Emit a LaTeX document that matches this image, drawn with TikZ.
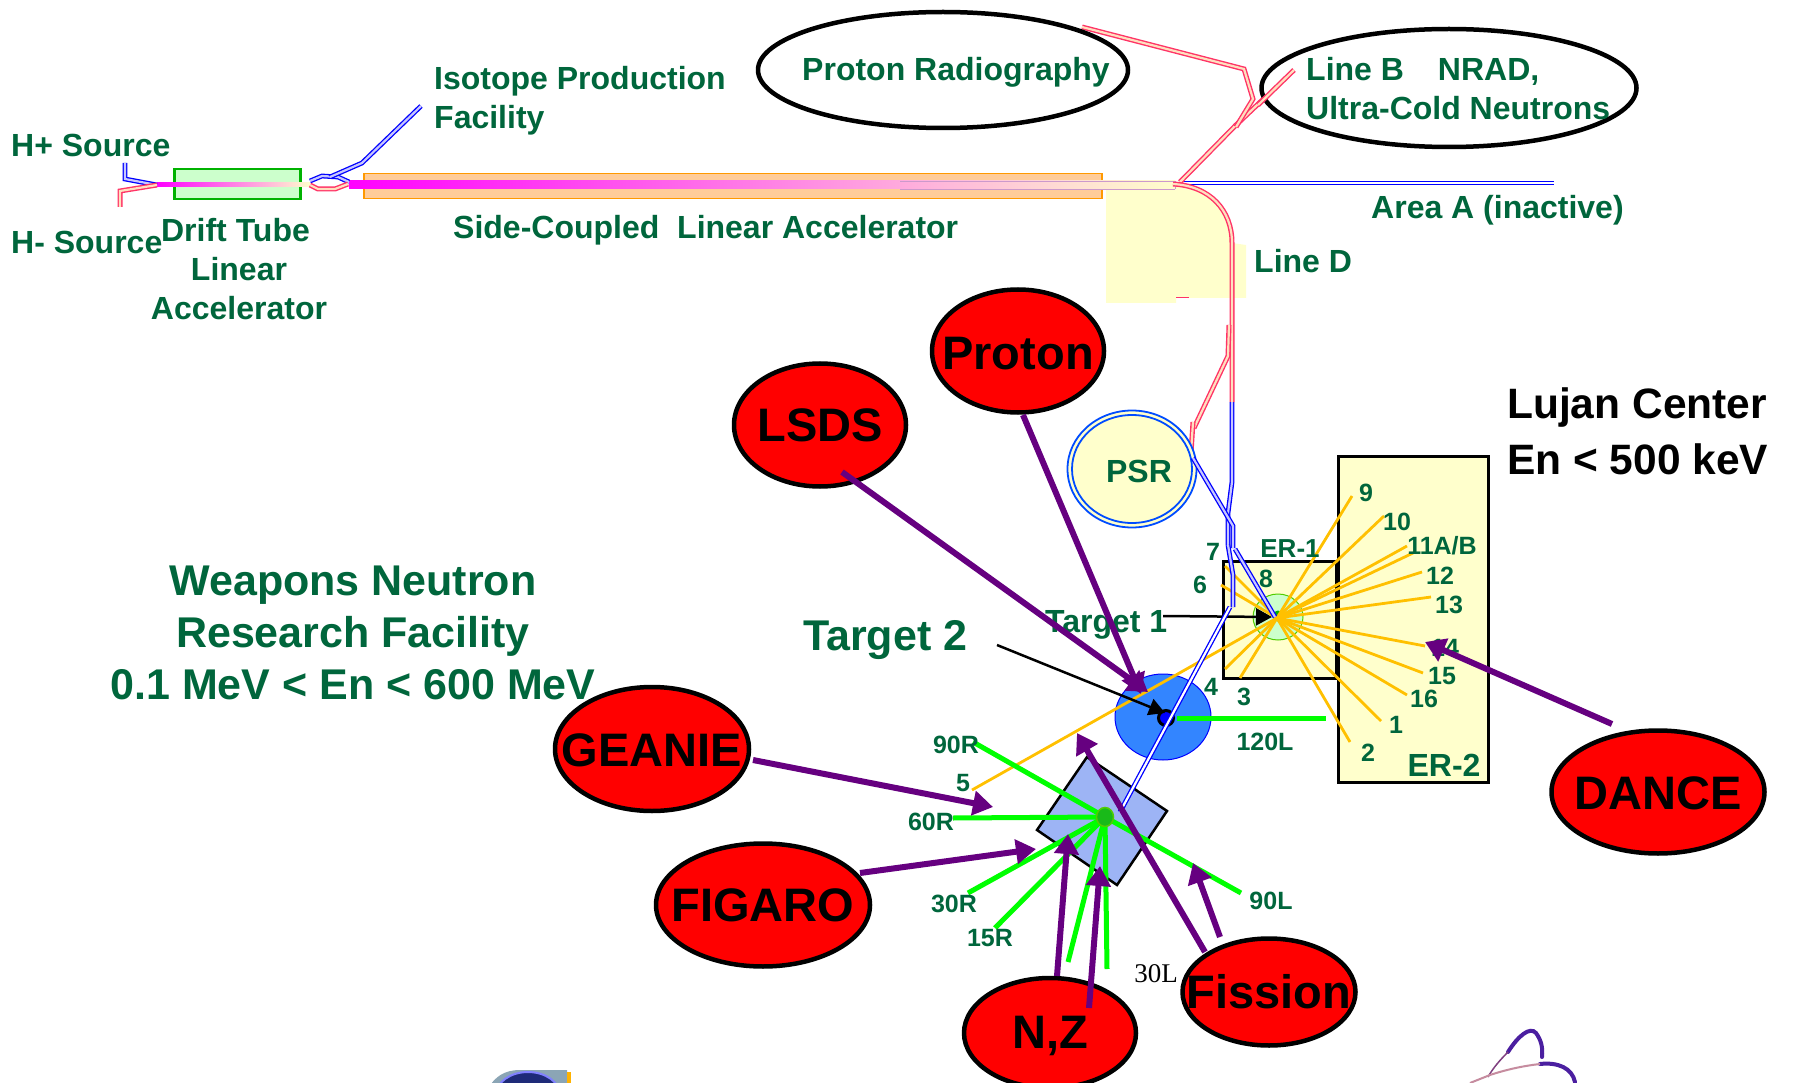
\documentclass[tikz,border=0pt]{standalone}
\usepackage{fontspec}
\setmainfont{Liberation Sans}
\newfontfamily\timesfont{Liberation Serif}
\usetikzlibrary{arrows.meta,shapes.geometric}
\definecolor{wnrgreen}{HTML}{00663C}
\definecolor{wnrpurple}{HTML}{660080}
\definecolor{wnrpale}{HTML}{FFFFCC}
\definecolor{wnrmint}{HTML}{CCFFCC}
\definecolor{wnrorange}{HTML}{FFCC99}
\definecolor{wnrpink}{HTML}{FF3366}
\definecolor{wnrgold}{HTML}{FFC000}
\definecolor{wnrlime}{HTML}{00FF00}
\definecolor{wnrhatch}{HTML}{9DB4F5}
\definecolor{wnrslate}{HTML}{8BA5B5}
\definecolor{wnrnavy}{HTML}{1E2A78}
\definecolor{wnrviolet}{HTML}{4B1FA0}

\begin{document}
\begin{tikzpicture}[x=1pt, y=-1pt,
  spot/.style={ellipse, draw=black, line width=4.5pt, fill=red, inner sep=0pt},
  oval/.style={ellipse, draw=black, line width=4.5pt, fill=white, inner sep=0pt},
  spotname/.style={font=\fontsize{47}{54}\selectfont\bfseries, inner sep=0pt},
  facility/.style={text=wnrgreen, font=\fontsize{32}{39}\selectfont\bfseries, inner sep=0pt, align=center},
  title/.style={text=wnrgreen, font=\fontsize{43}{52}\selectfont\bfseries, inner sep=0pt, align=center},
  lujan/.style={font=\fontsize{42.5}{56}\selectfont\bfseries, inner sep=0pt, align=left},
  port/.style={text=wnrgreen, font=\fontsize{25}{30}\selectfont\bfseries, inner sep=0pt},
  area/.style={draw=black, line width=3pt, fill=wnrpale, inner sep=0pt, anchor=north west},
  pinkpipe/.style={draw=wnrpink, line width=1.4pt, double=orange!25, double distance=2.2pt},
  bluepipe/.style={draw=blue, line width=1.3pt, double=blue!22, double distance=2.2pt},
  goldbeam/.style={draw=wnrgold, line width=2.8pt},
  limebeam/.style={draw=wnrlime, line width=5pt},
  spotarr/.style={-{Triangle[length=20pt,width=24pt]}, draw=wnrpurple, line width=6pt},
  targetarr/.style={-{Triangle[length=16pt,width=17pt]}, draw=black, line width=2.5pt}
]
\path[use as bounding box, fill=white] (0,0) rectangle (1797,1083);

% linac
\node[draw=green!70!black, line width=2.5pt, fill=wnrmint, minimum width=126pt, minimum height=30pt, inner sep=0pt, anchor=north west] (dtl) at (173,168) {};
\node[draw=orange!80!yellow, line width=1.5pt, fill=wnrorange, minimum width=738pt, minimum height=25pt, inner sep=0pt, anchor=north west] (sideco) at (363,173) {};
\fill[wnrpale] (1106,189) -- (1180,186) .. controls (1212,188) and (1232,210) .. (1232,243) -- (1246,245) -- (1246,298) -- (1176,298) -- (1176,303) -- (1106,303) -- cycle;
\draw[wnrpink, line width=1pt] (1176,298) -- (1189,298);
\shade[left color=magenta, right color=wnrpale] (157,182.5) rectangle (310,187);
\shade[left color=magenta, right color=wnrpale] (349,181) rectangle (1175,189);
\draw[violet!40, line width=0.8pt] (1175,181) -- (900,181) (1175,189) -- (900,189) (1175,181) -- (1175,189);

% sources and switchyard
\draw[bluepipe] (125,163) -- (125,179) -- (157,185);
\draw[pinkpipe] (120,207) -- (120,191) -- (157,185);
\draw[bluepipe] (310,181) -- (322,176) -- (338,177) -- (349,182);
\draw[pinkpipe] (310,185) -- (318,189) -- (335,189) -- (348,184);
\draw[bluepipe] (330,177) -- (362,163) -- (421,106);

% switchyard at the end of the linac
\draw[bluepipe, double=white] (1180,183) -- (1554,183);
\draw[pinkpipe] (1180,182) -- (1236,125) -- (1294,70);
\draw[pinkpipe] (1236,127) -- (1253,99) -- (1244,69) -- (1082,27);
\draw[pinkpipe] (1173,184) .. controls (1210,186) and (1232,210) .. (1232,243) -- (1232,402);
\draw[pinkpipe] (1229,325) -- (1228,356) -- (1194,428);
\draw[pinkpipe] (1193,422) -- (1191,453);

% ovals
\node[oval, minimum width=370pt, minimum height=116pt] (radiography) at (943,70) {};
\node[oval, minimum width=375pt, minimum height=118pt] (lineb) at (1449,88) {};
\draw[pinkpipe] (1258,105) -- (1294,70);
\node[facility] (radiotext) at (956,72) {Proton Radiography};
\node[facility, anchor=west, align=left] (linebtext) at (1306,89) {Line B\hspace{34pt}NRAD,\\Ultra-Cold Neutrons};

% experiment areas
\node[area, minimum width=150pt, minimum height=326pt] (er2) at (1337,455) {};
\node[area, minimum width=113pt, minimum height=117pt] (er1) at (1222,560) {};
\node[ellipse, draw=green!60!yellow!80!black, line width=1pt, fill=wnrmint, minimum width=50pt, minimum height=46pt, inner sep=0pt] (target1ring) at (1278,617) {};
\node[circle, fill=green!70!black, minimum size=11pt, inner sep=0pt] (target1) at (1278,616) {};
\node[ellipse, draw=blue, line width=1pt, fill=blue!60!cyan!80, minimum width=96pt, minimum height=86pt, inner sep=0pt] (disc) at (1163,717) {};
\node[circle, draw=black, line width=3pt, fill=blue, minimum size=15pt, inner sep=0pt] (target2) at (1166,718) {};
\fill[wnrhatch, draw=black, line width=2.5pt] (1087,757) -- (1167,811) -- (1117,885) -- (1037,830) -- cycle;

% PSR ring
\node[ellipse, draw=blue!70!cyan, line width=1.8pt, fill=wnrpale, minimum width=129pt, minimum height=117pt, inner sep=0pt] (psr) at (1132,469) {};
\node[ellipse, draw=blue!70!cyan, line width=1.8pt, minimum width=120pt, minimum height=108pt, inner sep=0pt] (psrinner) at (1132,469) {};

% Lujan flight paths
\coordinate (lujanhub) at (1277,618);
\coordinate (fp1) at (1381,721);
\coordinate (fp2) at (1350,742);
\coordinate (fp3) at (1240,678);
\coordinate (fp4) at (1225,669);
\coordinate (fp5) at (972,790);
\coordinate (fp6) at (1221,585);
\coordinate (fp7) at (1225,566);
\coordinate (fp9) at (1352,496);
\coordinate (fp10) at (1384,516);
\coordinate (fp11a) at (1407,546);
\coordinate (fp11b) at (1413,553);
\coordinate (fp12) at (1422,572);
\coordinate (fp13) at (1431,597);
\coordinate (fp14) at (1425,646);
\coordinate (fp15) at (1423,673);
\coordinate (fp16) at (1407,695);
\coordinate (target1start) at (1163,616);
\coordinate (target1tip) at (1272,617);
\draw[targetarr] (target1start) -- (target1tip);
\draw[goldbeam] (lujanhub) -- (fp1);
\draw[goldbeam] (lujanhub) -- (fp2);
\draw[goldbeam] (lujanhub) -- (fp3);
\draw[goldbeam] (lujanhub) -- (fp4);
\draw[goldbeam] (lujanhub) -- (fp5);
\draw[goldbeam] (lujanhub) -- (fp6);
\draw[goldbeam] (lujanhub) -- (fp7);
\draw[goldbeam] (lujanhub) -- (fp9);
\draw[goldbeam] (lujanhub) -- (fp10);
\draw[goldbeam] (lujanhub) -- (fp11a);
\draw[goldbeam] (lujanhub) -- (fp11b);
\draw[goldbeam] (lujanhub) -- (fp12);
\draw[goldbeam] (lujanhub) -- (fp13);
\draw[goldbeam] (lujanhub) -- (fp14);
\draw[goldbeam] (lujanhub) -- (fp15);
\draw[goldbeam] (lujanhub) -- (fp16);

% proton lines after PSR
\draw[bluepipe] (1232,402) -- (1232,482) -- (1228,513) -- (1228,545);
\draw[bluepipe] (1228,545) -- (1233,575) -- (1233,607);
\draw[bluepipe] (1193,458) -- (1233,526) -- (1233,548);
\draw[bluepipe] (1235,549) -- (1275,617);
\draw[bluepipe, double=white] (1230,607) -- (1120,812);

% WNR flight paths
\coordinate (wnrhub) at (1105,817);
\coordinate (fp120l) at (1326,718);
\coordinate (fp90r) at (973,742);
\coordinate (fp60r) at (953,818);
\coordinate (fp30r) at (968,893);
\coordinate (fp15r) at (995,928);
\coordinate (fp15l) at (1068,962);
\coordinate (fp30l) at (1107,969);
\coordinate (fp90l) at (1241,893);
\coordinate (start120l) at (1177,718);
\draw[limebeam] (start120l) -- (fp120l);
\draw[limebeam] (wnrhub) -- (fp90r);
\draw[limebeam] (wnrhub) -- (fp60r);
\draw[limebeam] (wnrhub) -- (fp30r);
\draw[limebeam] (wnrhub) -- (fp15r);
\draw[limebeam] (wnrhub) -- (fp15l);
\draw[limebeam] (wnrhub) -- (fp30l);
\draw[limebeam] (wnrhub) -- (fp90l);
\node[ellipse, draw=green!60!yellow!80!black, line width=1.5pt, fill=green!70!black!90, minimum width=17pt, minimum height=19pt, inner sep=0pt] (target4) at (1105,817) {};

% experiments
\node[spot, minimum width=172pt, minimum height=123pt] (proton) at (1018,351) {};
\node[spot, minimum width=172pt, minimum height=123pt] (lsds) at (820,425) {};
\node[spot, minimum width=194pt, minimum height=124pt] (geanie) at (652,749) {};
\node[spot, minimum width=214pt, minimum height=123pt] (figaro) at (763,905) {};
\node[spot, minimum width=172pt, minimum height=110pt] (nz) at (1050,1033) {};
\node[spot, minimum width=173pt, minimum height=107pt] (fission) at (1269,992) {};
\node[spot, minimum width=213pt, minimum height=123pt] (dance) at (1658,792) {};
\node[spotname] (protontext) at (1018,354) {Proton};
\node[spotname] (lsdstext) at (820,425) {LSDS};
\node[spotname] (geanietext) at (652,750) {GEANIE};
\node[spotname] (figarotext) at (763,905) {FIGARO};
\node[spotname] (nztext) at (1050,1036) {N,Z};
\node[spotname] (fissiontext) at (1269,992) {Fission};
\node[spotname] (dancetext) at (1658,793) {DANCE};

% labels
\node[facility, anchor=west] (hplus) at (11,145) {H+ Source};
\node[facility, anchor=west] (hminus) at (11,242) {H- Source};
\node[facility] (dtltext) at (239,269) {Drift Tube\hspace*{7pt}\\Linear\\Accelerator};
\node[facility, anchor=west, align=left] (isotope) at (434,100.5) {Isotope Production\\Facility};
\node[facility, anchor=west] (sidecotext) at (453,230.5) {Side-Coupled\ \ Linear Accelerator};
\node[facility, anchor=west] (areaa) at (1371,210.5) {Area A (inactive)};
\node[facility, anchor=west] (lined) at (1254,261) {Line D};
\node[facility] (psrtext) at (1139,471) {PSR};
\node[title] (wnr) at (353,633) {Weapons Neutron\\Research Facility\\0.1 MeV < En < 600 MeV};
\node[lujan, anchor=west] (lujancenter) at (1507,431) {Lujan Center\\En < 500 keV};
\node[title, anchor=west] (target2text) at (803,640) {Target 2};
\node[facility, anchor=west] (target1text) at (1045,625) {Target 1};
\node[port] (l1) at (1396,725) {1};
\node[port] (l2) at (1368,753) {2};
\node[port] (l3) at (1244,697) {3};
\node[port] (l4) at (1211,687) {4};
\node[port] (l5) at (963,783) {5};
\node[port] (l6) at (1200,585) {6};
\node[port] (l7) at (1213,552) {7};
\node[port] (l8) at (1266,579) {8};
\node[port] (l9) at (1366,493) {9};
\node[port] (l10) at (1397,522) {10};
\node[port] (l11) at (1442,546) {11A/B};
\node[port] (l12) at (1440,576) {12};
\node[port] (l13) at (1449,605) {13};
\node[port] (l14) at (1445,648) {14};
\node[port] (l15) at (1442,676) {15};
\node[port] (l16) at (1424,699) {16};
\node[port] (l120l) at (1265,742) {120L};
\node[port] (l90r) at (956,745) {90R};
\node[port] (l60r) at (931,822) {60R};
\node[port] (l30r) at (954,904) {30R};
\node[port] (l15r) at (990,938) {15R};
\node[port] (l90l) at (1271,901) {90L};
\node[inner sep=0pt, font=\timesfont\fontsize{27}{30}\selectfont] (l30l) at (1156,974) {30L};
\node[facility, font=\fontsize{26}{30}\selectfont\bfseries] (er1text) at (1290,549) {ER-1};
\node[facility] (er2text) at (1444,765) {ER-2};

% arrows to the target
\coordinate (target2start) at (997,645);
\coordinate (target2tip) at (1165,713);
\draw[targetarr] (target2start) -- (target2tip);

% arrows from the experiments
\coordinate (lsdsstart) at (842,472);
\coordinate (lsdstip) at (1148,692);
\coordinate (protonstart) at (1023,415);
\coordinate (protontip) at (1141,694);
\coordinate (geaniestart) at (753,760);
\coordinate (geanietip) at (993,807);
\coordinate (figarostart) at (860,873);
\coordinate (figarotip) at (1036,849);
\coordinate (nzstarta) at (1057,976);
\coordinate (nztipa) at (1068,834);
\coordinate (nzstartb) at (1089,1008);
\coordinate (nztipb) at (1100,866);
\coordinate (fissionstarta) at (1205,952);
\coordinate (fissiontipa) at (1077,733);
\coordinate (fissionstartb) at (1220,937);
\coordinate (fissiontipb) at (1193,863);
\coordinate (dancestart) at (1612,724);
\coordinate (dancetip) at (1425,642);
\draw[spotarr] (lsdsstart) -- (lsdstip);
\draw[spotarr] (protonstart) -- (protontip);
\draw[spotarr] (geaniestart) -- (geanietip);
\draw[spotarr] (figarostart) -- (figarotip);
\draw[spotarr] (nzstarta) -- (nztipa);
\draw[spotarr] (nzstartb) -- (nztipb);
\draw[spotarr] (fissionstarta) -- (fissiontipa);
\draw[spotarr] (fissionstartb) -- (fissiontipb);
\draw[spotarr] (dancestart) -- (dancetip);

% logos at the lower edge
\fill[wnrslate] (487,1090) .. controls (495,1076) and (505,1070) .. (520,1070) -- (567,1070) -- (567,1090) -- cycle;
\fill[orange!60!yellow] (567,1072) rectangle (571,1090);
\fill[wnrnavy, draw=blue!50!white, line width=2pt] (528,1095) ellipse (32pt and 23pt);
\draw[wnrviolet, line width=4pt, line cap=round] (1508,1052) .. controls (1518,1036) and (1530,1026) .. (1536,1033) .. controls (1541,1040) and (1543,1047) .. (1542,1057);
\draw[violet!50!gray, line width=1.5pt] (1488,1077) .. controls (1493,1068) and (1500,1060) .. (1508,1052);
\draw[wnrviolet, line width=4pt, line cap=round] (1540,1064) .. controls (1558,1062) and (1572,1068) .. (1575,1082);
\draw[brown!50!violet!60, line width=2pt] (1470,1083) -- (1490,1075) .. controls (1505,1070) and (1522,1066) .. (1540,1064);
\end{tikzpicture}
\end{document}
